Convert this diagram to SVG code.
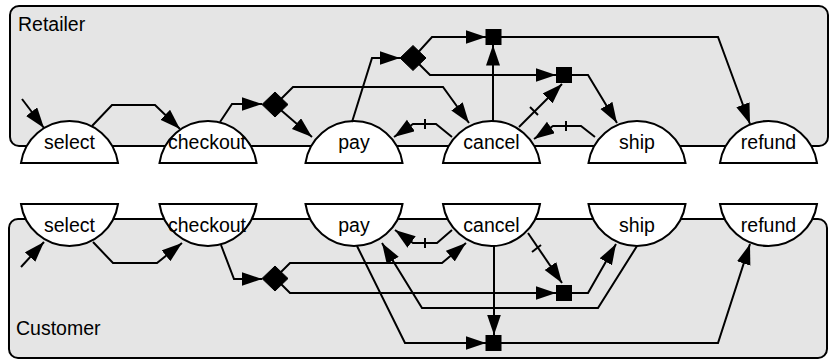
<svg xmlns="http://www.w3.org/2000/svg" width="831" height="360" viewBox="0 0 831 360">
<style>
.lane{fill:#e5e5e5;stroke:#000;stroke-width:2}
.node{fill:#fff;stroke:#000;stroke-width:2}
.lbl{font-family:"Liberation Sans",Arial,sans-serif;font-size:19.5px;fill:#000}
.c{fill:none;stroke:#000;stroke-width:2;stroke-linejoin:miter}
.a{marker-end:url(#arr)}
.j{fill:#000;stroke:#000;stroke-width:1}
</style>
<defs>
<marker id="arr" markerUnits="userSpaceOnUse" markerWidth="22" markerHeight="15" refX="20.5" refY="7" orient="auto" viewBox="0 0 22 15">
<path d="M0,0 L20.5,7 L0,14 z" fill="#000"/>
</marker>
</defs>
<g id="lane-retailer">
<rect class="lane" x="10" y="6" width="818" height="140" rx="9"/>
<text class="lbl" x="18" y="31">Retailer</text>
</g>
<g id="lane-customer">
<rect class="lane" x="9" y="219" width="818" height="139" rx="9"/>
<text class="lbl" x="16" y="335">Customer</text>
</g>
<g id="r-select"><path class="node" d="M21,163 A49,49 0 0 1 118,163 Z"/><text class="lbl" x="69.5" y="149" text-anchor="middle">select</text></g>
<g id="r-checkout"><path class="node" d="M159.5,163 A49,49 0 0 1 256.5,163 Z"/><text class="lbl" x="207" y="149" text-anchor="middle">checkout</text></g>
<g id="r-pay"><path class="node" d="M305.5,163 A49,49 0 0 1 402.5,163 Z"/><text class="lbl" x="354" y="149" text-anchor="middle">pay</text></g>
<g id="r-cancel"><path class="node" d="M443,163 A49,49 0 0 1 540,163 Z"/><text class="lbl" x="491.5" y="149" text-anchor="middle">cancel</text></g>
<g id="r-ship"><path class="node" d="M588.5,163 A49,49 0 0 1 685.5,163 Z"/><text class="lbl" x="637" y="149" text-anchor="middle">ship</text></g>
<g id="r-refund"><path class="node" d="M720,163 A49,49 0 0 1 817,163 Z"/><text class="lbl" x="768.5" y="149" text-anchor="middle">refund</text></g>
<g id="c-select"><path class="node" d="M21,204 A49,49 0 0 0 118,204 Z"/><text class="lbl" x="69.5" y="232" text-anchor="middle">select</text></g>
<g id="c-checkout"><path class="node" d="M159.5,204 A49,49 0 0 0 256.5,204 Z"/><text class="lbl" x="207" y="232" text-anchor="middle">checkout</text></g>
<g id="c-pay"><path class="node" d="M305.5,204 A49,49 0 0 0 402.5,204 Z"/><text class="lbl" x="354" y="232" text-anchor="middle">pay</text></g>
<g id="c-cancel"><path class="node" d="M443,204 A49,49 0 0 0 540,204 Z"/><text class="lbl" x="491.5" y="232" text-anchor="middle">cancel</text></g>
<g id="c-ship"><path class="node" d="M588.5,204 A49,49 0 0 0 685.5,204 Z"/><text class="lbl" x="637" y="232" text-anchor="middle">ship</text></g>
<g id="c-refund"><path class="node" d="M720,204 A49,49 0 0 0 817,204 Z"/><text class="lbl" x="768.5" y="232" text-anchor="middle">refund</text></g>
<g id="connectors">
<path class="c a" d="M22,99 L44,128"/>
<path class="c a" d="M92,126 L112,105 L155,105 L180,129"/>
<path class="c a" d="M220,122 L232,104 L262,104"/>
<path class="c a" d="M275,105 L312,137"/>
<path class="c a" d="M275,105 L293,87 L443,87 L469,123"/>
<path class="c a" d="M352,122 L372,58 L400,58"/>
<path class="c a" d="M413,58 L432,37 L486,37"/>
<path class="c a" d="M413,58 L430,75 L556,75"/>
<path class="c a" d="M493,121 L493,45"/>
<path class="c a" d="M519,127 L562,84"/>
<path class="c" d="M530,107 L538,115"/>
<path class="c a" d="M452,137 L436,124 L413,124 L394,137"/>
<path class="c" d="M425,119 L425,129"/>
<path class="c a" d="M595,137 L581,126 L553,126 L534,139"/>
<path class="c" d="M566,121 L566,131"/>
<path class="c a" d="M564,75 L588,75 L617,123"/>
<path class="c a" d="M493,37 L718,37 L750,124"/>
<path class="c a" d="M21,267 L44,242"/>
<path class="c a" d="M93,242 L113,263 L157,263 L182,243"/>
<path class="c a" d="M221,245 L234,279 L262,279"/>
<path class="c a" d="M275,278 L290,263 L442,263 L466,243"/>
<path class="c a" d="M275,278 L290,293 L556,293"/>
<path class="c a" d="M637,246 L598,308 L422,308 L382,243"/>
<path class="c a" d="M564,293 L588,293 L616,244"/>
<path class="c a" d="M528,233 L562,283"/>
<path class="c" d="M532,252 L541,245"/>
<path class="c a" d="M452,230 L437,243 L413,243 L395,230"/>
<path class="c" d="M425,238 L425,248"/>
<path class="c a" d="M494,246 L494,335"/>
<path class="c a" d="M357,246 L405,343 L486,343"/>
<path class="c a" d="M494,343 L718,343 L750,244"/>
</g>
<g id="junction-r1"><polygon class="j" points="262,104.5 275,92 288,104.5 275,117"/></g>
<g id="junction-r2"><polygon class="j" points="400,58 413,45.5 426,58 413,70.5"/></g>
<g id="junction-r3"><rect class="j" x="486" y="29.5" width="15" height="15"/></g>
<g id="junction-r4"><rect class="j" x="556.5" y="67.5" width="15" height="15"/></g>
<g id="junction-c1"><polygon class="j" points="262,278.5 275,266 288,278.5 275,291"/></g>
<g id="junction-c2"><rect class="j" x="556.5" y="285.5" width="15" height="15"/></g>
<g id="junction-c3"><rect class="j" x="486" y="335.5" width="15" height="15"/></g>
</svg>
